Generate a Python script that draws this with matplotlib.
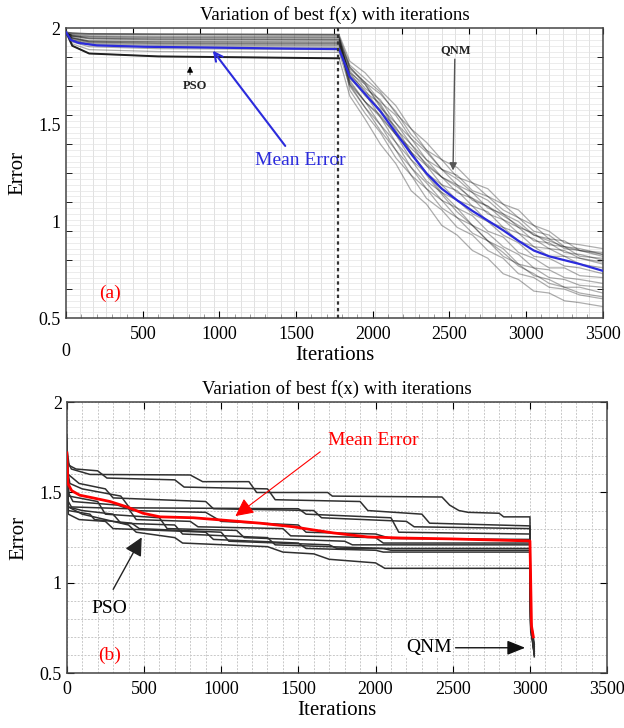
import numpy as np
import matplotlib
matplotlib.use("Agg")
import matplotlib.pyplot as plt
from matplotlib.ticker import MultipleLocator, FixedLocator

plt.rcParams['font.family'] = ['Liberation Serif', 'DejaVu Serif']
plt.rcParams['mathtext.fontset'] = 'stix'

# PANEL (a) DATA : PSO PHASE THEN QNM PHASE
PSO_ITERS_A = [0, 40, 150, 600, 1780]
QNM_ITERS_A = [1850, 1950, 2050, 2150, 2250, 2350, 2450, 2550, 2650,
               2750, 2850, 2950, 3050, 3150, 3250, 3350, 3500]

pso_runs_a = [
    [1.98, 1.975, 1.972, 1.970, 1.968],
    [1.98, 1.970, 1.962, 1.960, 1.958],
    [1.98, 1.965, 1.950, 1.945, 1.942],
    [1.98, 1.960, 1.945, 1.940, 1.938],
    [1.98, 1.955, 1.935, 1.930, 1.928],
    [1.98, 1.950, 1.930, 1.925, 1.922],
    [1.98, 1.945, 1.925, 1.918, 1.915],
    [1.98, 1.950, 1.935, 1.932, 1.930],
    [1.98, 1.960, 1.955, 1.952, 1.950],
    [1.98, 1.940, 1.915, 1.905, 1.902],
    [1.98, 1.930, 1.905, 1.895, 1.890],
    [1.98, 1.975, 1.970, 1.968, 1.965],
    [1.98, 1.940, 1.920, 1.912, 1.910],
    [1.98, 1.920, 1.890, 1.880, 1.876],
    [1.98, 1.960, 1.948, 1.945, 1.944],
    [1.98, 1.910, 1.870, 1.855, 1.845],
    [1.98, 1.965, 1.958, 1.955, 1.953],
    [1.98, 1.950, 1.930, 1.922, 1.920],
]

qnm_runs_a = [
    [1.83, 1.77, 1.68, 1.60, 1.48, 1.41, 1.32, 1.28, 1.20, 1.17, 1.09, 1.06, 0.98, 0.95, 0.89, 0.88, 0.86],
    [1.81, 1.74, 1.67, 1.56, 1.48, 1.37, 1.32, 1.23, 1.20, 1.13, 1.09, 1.02, 0.98, 0.91, 0.90, 0.85, 0.84],
    [1.80, 1.72, 1.66, 1.57, 1.45, 1.37, 1.27, 1.24, 1.16, 1.13, 1.06, 1.02, 0.95, 0.93, 0.87, 0.86, 0.83],
    [1.79, 1.72, 1.62, 1.55, 1.43, 1.36, 1.27, 1.22, 1.15, 1.11, 1.04, 1.00, 0.93, 0.91, 0.86, 0.85, 0.82],
    [1.78, 1.69, 1.63, 1.51, 1.43, 1.32, 1.27, 1.19, 1.15, 1.07, 1.04, 0.97, 0.94, 0.88, 0.87, 0.82, 0.81],
    [1.77, 1.71, 1.59, 1.51, 1.40, 1.32, 1.23, 1.19, 1.11, 1.08, 1.01, 0.97, 0.90, 0.89, 0.84, 0.83, 0.80],
    [1.77, 1.67, 1.61, 1.48, 1.40, 1.29, 1.23, 1.15, 1.12, 1.04, 1.01, 0.94, 0.91, 0.86, 0.85, 0.81, 0.79],
    [1.76, 1.68, 1.57, 1.49, 1.36, 1.29, 1.19, 1.16, 1.08, 1.05, 0.97, 0.94, 0.87, 0.86, 0.82, 0.81, 0.78],
    [1.75, 1.65, 1.58, 1.45, 1.36, 1.25, 1.19, 1.11, 1.08, 1.00, 0.97, 0.90, 0.87, 0.82, 0.82, 0.78, 0.76],
    [1.74, 1.66, 1.54, 1.45, 1.32, 1.25, 1.15, 1.11, 1.04, 1.00, 0.93, 0.89, 0.82, 0.81, 0.77, 0.76, 0.73],
    [1.73, 1.62, 1.54, 1.41, 1.32, 1.21, 1.15, 1.07, 1.03, 0.95, 0.92, 0.84, 0.81, 0.76, 0.76, 0.72, 0.71],
    [1.72, 1.62, 1.50, 1.41, 1.28, 1.20, 1.11, 1.07, 0.98, 0.94, 0.87, 0.83, 0.76, 0.75, 0.71, 0.70, 0.68],
    [1.71, 1.59, 1.50, 1.37, 1.28, 1.17, 1.11, 1.02, 0.98, 0.90, 0.86, 0.78, 0.76, 0.71, 0.70, 0.67, 0.66],
    [1.70, 1.59, 1.47, 1.37, 1.24, 1.17, 1.07, 1.02, 0.94, 0.90, 0.82, 0.78, 0.72, 0.70, 0.66, 0.66, 0.63],
    [1.68, 1.56, 1.46, 1.33, 1.24, 1.12, 1.06, 0.97, 0.93, 0.85, 0.81, 0.73, 0.71, 0.66, 0.65, 0.62, 0.60],
    [1.65, 1.53, 1.40, 1.30, 1.16, 1.09, 0.98, 0.93, 0.85, 0.81, 0.73, 0.70, 0.64, 0.63, 0.59, 0.58, 0.56],
    [1.80, 1.71, 1.60, 1.47, 1.36, 1.24, 1.14, 1.05, 0.98, 0.90, 0.84, 0.77, 0.73, 0.68, 0.66, 0.63, 0.61],
    [1.71, 1.62, 1.55, 1.45, 1.38, 1.30, 1.23, 1.18, 1.12, 1.08, 1.03, 0.98, 0.93, 0.90, 0.87, 0.85, 0.83],
]
DARK_RUN_A = 15

mean_iters_a = [0, 30, 80, 200, 500, 1000, 1500, 1780, 1850, 1950, 2050, 2150, 2250,
                2350, 2450, 2550, 2650, 2750, 2850, 2950, 3050, 3150, 3250, 3350, 3500]
mean_err_a = [1.98, 1.94, 1.925, 1.912, 1.905, 1.90, 1.895, 1.893, 1.75, 1.66, 1.57, 1.46, 1.35,
              1.25, 1.17, 1.11, 1.055, 1.005, 0.955, 0.90, 0.85, 0.82, 0.80, 0.78, 0.745]
SWITCH_ITER_A = 1775

# PANEL (b) DATA : STEP-LIKE PSO RUNS, QNM AT 3000
pso_iters_b = [
    [0, 30, 150, 800, 880, 1180, 1230, 1690, 1720, 2430, 2480, 2540, 2600, 2800, 2830, 3000],
    [0, 15, 60, 200, 260, 700, 760, 1300, 1350, 1900, 1950, 2300, 2350, 3000],
    [0, 10, 80, 250, 300, 900, 950, 1600, 1650, 2200, 2250, 3000],
    [0, 10, 40, 330, 380, 1500, 1550, 2100, 2150, 3000],
    [0, 20, 100, 350, 420, 900, 1000, 1500, 1550, 2000, 2100, 3000],
    [0, 10, 30, 400, 450, 800, 850, 1400, 1450, 2000, 2050, 3000],
    [0, 15, 200, 250, 600, 650, 1100, 1150, 1800, 1850, 3000],
    [0, 10, 150, 180, 420, 470, 1000, 1050, 1700, 1750, 3000],
    [0, 10, 100, 300, 350, 700, 750, 1300, 1350, 2050, 2100, 3000],
    [0, 10, 80, 250, 300, 900, 950, 1500, 1550, 2000, 2050, 3000],
    [0, 10, 100, 400, 450, 700, 750, 1300, 1400, 1600, 1700, 2000, 2060, 3000],
]
pso_vals_b = [
    [1.68, 1.63, 1.60, 1.597, 1.56, 1.56, 1.50, 1.50, 1.48, 1.475, 1.43, 1.40, 1.39, 1.385, 1.365, 1.365],
    [1.75, 1.65, 1.63, 1.62, 1.58, 1.57, 1.53, 1.52, 1.46, 1.45, 1.40, 1.38, 1.33, 1.315],
    [1.70, 1.60, 1.55, 1.52, 1.47, 1.45, 1.41, 1.40, 1.36, 1.34, 1.31, 1.30],
    [1.82, 1.50, 1.45, 1.43, 1.415, 1.41, 1.38, 1.36, 1.28, 1.27],
    [1.65, 1.55, 1.52, 1.48, 1.40, 1.39, 1.34, 1.32, 1.28, 1.27, 1.245, 1.24],
    [1.80, 1.45, 1.42, 1.41, 1.35, 1.34, 1.31, 1.30, 1.26, 1.25, 1.22, 1.22],
    [1.72, 1.48, 1.45, 1.38, 1.36, 1.30, 1.29, 1.25, 1.23, 1.21, 1.21],
    [1.78, 1.40, 1.38, 1.35, 1.33, 1.30, 1.28, 1.23, 1.21, 1.19, 1.19],
    [1.62, 1.42, 1.40, 1.38, 1.33, 1.32, 1.27, 1.25, 1.21, 1.19, 1.18, 1.18],
    [1.70, 1.38, 1.35, 1.34, 1.30, 1.28, 1.24, 1.22, 1.19, 1.18, 1.17, 1.17],
    [1.68, 1.42, 1.38, 1.32, 1.28, 1.25, 1.22, 1.20, 1.17, 1.16, 1.13, 1.11, 1.08, 1.08],
]
QNM_ITERS_B = [3005, 3015, 3028]
qnm_vals_b = [
    [0.80, 0.74, 0.66], [0.78, 0.72, 0.64], [0.77, 0.73, 0.62], [0.79, 0.70, 0.63],
    [0.76, 0.72, 0.60], [0.75, 0.70, 0.61], [0.78, 0.71, 0.65], [0.74, 0.69, 0.60],
    [0.77, 0.70, 0.62], [0.76, 0.71, 0.59], [0.73, 0.68, 0.61],
]

mean_iters_b = [0, 7, 32, 84, 170, 280, 390, 494, 604, 820, 1040, 1253, 1468, 1578,
                1727, 1948, 2162, 2487, 2987, 3000, 3010, 3022]
mean_err_b = [1.72, 1.55, 1.51, 1.485, 1.47, 1.45, 1.42, 1.385, 1.365, 1.36, 1.345, 1.33,
              1.31, 1.295, 1.276, 1.254, 1.248, 1.243, 1.232, 1.232, 0.76, 0.70]

TITLE = "Variation of best f(x) with iterations"
X_TICKS = [0, 500, 1000, 1500, 2000, 2500, 3000, 3500]

fig = plt.figure(figsize=(6.24, 7.28), dpi=100)

# ---------------- PANEL (a) ----------------
ax1 = fig.add_axes([0.106, 0.563, 0.860, 0.398])
ax1.set_xlim(0, 3500)
ax1.set_ylim(0.5, 2.0)

# LIGHT DENSE GRID
for gx in np.arange(87.5, 3500, 87.5):
    ax1.axvline(gx, color='#dcdcdc', lw=0.6, zorder=0)
for gy in np.arange(0.53, 2.0, 0.03):
    ax1.axhline(gy, color='#e4e4e4', lw=0.5, zorder=0)

for pso, qnm in zip(pso_runs_a, qnm_runs_a):
    xs = PSO_ITERS_A + QNM_ITERS_A
    ys = pso + qnm
    ax1.plot(xs, ys, color='black', alpha=0.32, lw=0.9, zorder=2)
ax1.plot(PSO_ITERS_A, pso_runs_a[DARK_RUN_A], color='#202020', lw=1.4, zorder=3)
ax1.plot(PSO_ITERS_A, pso_runs_a[0], color='#606060', lw=1.1, zorder=3)

ax1.plot(mean_iters_a, mean_err_a, color='#2b2bdc', lw=1.6, zorder=4)
ax1.axvline(SWITCH_ITER_A, color='#333333', lw=1.6, ls=(0, (1.5, 1.5)), zorder=5)

ax1.set_xticks(X_TICKS)
ax1.set_xticklabels([''] + [str(t) for t in X_TICKS[1:]])
ax1.text(0, -0.085, '0', transform=ax1.get_xaxis_transform(), ha='center', va='top', fontsize=13)
ax1.xaxis.set_minor_locator(MultipleLocator(100))
ax1.set_yticks([0.5, 1.0, 1.5, 2.0])
ax1.set_yticklabels(['0.5', '1', '1.5', '2'])
ax1.yaxis.set_minor_locator(FixedLocator(np.arange(0.65, 2.0, 0.15)))
ax1.tick_params(axis='x', which='major', direction='in', length=5, labelsize=13, pad=6)
ax1.tick_params(axis='x', which='minor', direction='in', length=3, color='#888888')
ax1.tick_params(axis='y', which='major', direction='in', length=0, labelsize=13, pad=4)
ax1.tick_params(axis='y', which='minor', direction='in', length=4, right=True)
sec_top = ax1.secondary_xaxis('top')
sec_top.set_xticks(np.arange(0, 3501, 437.5))
sec_top.set_xticklabels([])
sec_top.tick_params(direction='in', length=4)
for sp in ax1.spines.values():
    sp.set_color('#444444')
    sp.set_linewidth(1.1)
sec_top.spines['top'].set_visible(False)

ax1.set_title(TITLE, fontsize=13.5, pad=6)
ax1.set_xlabel('Iterations', fontsize=15, labelpad=2)
ax1.set_ylabel('Error', fontsize=15, labelpad=8)

ax1.annotate('', xy=(946, 1.896), xytext=(1440, 1.38),
             arrowprops=dict(arrowstyle='->,head_length=0.6,head_width=0.3', color='#2b2bdc', lw=1.5))
ax1.text(1525, 1.317, 'Mean Error', color='#2b2bdc', fontsize=14, ha='center', va='center')
ax1.annotate('', xy=(808, 1.818), xytext=(808, 1.745),
             arrowprops=dict(arrowstyle='-|>', color='black', lw=0.6, mutation_scale=9))
ax1.text(841, 1.70, 'PSO', fontsize=9, fontweight='bold', ha='center', va='center', color='#222222')
ax1.annotate('', xy=(2523, 1.25), xytext=(2535, 1.855),
             arrowprops=dict(arrowstyle='-|>', color='#555555', lw=1.0, mutation_scale=11))
ax1.text(2542, 1.886, 'QNM', fontsize=9, fontweight='bold', ha='center', va='center', color='#222222')
ax1.text(287, 0.63, '(a)', color='red', fontsize=14, ha='center', va='center')

# ---------------- PANEL (b) ----------------
ax2 = fig.add_axes([0.107, 0.0755, 0.866, 0.372])
ax2.set_xlim(0, 3500)
ax2.set_ylim(0.5, 2.0)
ax2.xaxis.set_minor_locator(MultipleLocator(100))
ax2.yaxis.set_minor_locator(MultipleLocator(0.1))
ax2.grid(True, which='both', color='#c8c8c8', lw=0.7, ls=(0, (2, 1.5)), zorder=0)
ax2.set_axisbelow(True)

for its, vals, qv in zip(pso_iters_b, pso_vals_b, qnm_vals_b):
    ax2.plot(its + QNM_ITERS_B, vals + qv, color='#303030', lw=1.1, zorder=2)
ax2.plot(mean_iters_b, mean_err_b, color='red', lw=2.0, zorder=3)

ax2.set_xticks(X_TICKS)
ax2.set_yticks([0.5, 1.0, 1.5, 2.0])
ax2.set_yticklabels(['0.5', '1', '1.5', '2'])
ax2.tick_params(which='major', direction='in', length=5, top=True, right=True, labelsize=13)
ax2.tick_params(axis='x', which='major', pad=6)
ax2.tick_params(which='minor', length=0)
for sp in ax2.spines.values():
    sp.set_color('#444444')
    sp.set_linewidth(1.1)

ax2.set_title(TITLE, fontsize=13.5, pad=6)
ax2.set_xlabel('Iterations', fontsize=15, labelpad=2)
ax2.set_ylabel('Error', fontsize=15, labelpad=8)

ax2.annotate('', xy=(1078, 1.36), xytext=(1656, 1.735),
             arrowprops=dict(arrowstyle='-|>,head_length=0.5,head_width=0.25', color='red', lw=0.8, mutation_scale=22))
ax2.text(1987, 1.79, 'Mean Error', color='red', fontsize=14, ha='center', va='center')
ax2.annotate('', xy=(494, 1.265), xytext=(292, 0.95),
             arrowprops=dict(arrowstyle='-|>,head_length=0.5,head_width=0.25', color='#222222', lw=1.0, mutation_scale=22))
ax2.text(273, 0.86, 'PSO', fontsize=14, ha='center', va='center')
ax2.annotate('', xy=(2987, 0.64), xytext=(2500, 0.64),
             arrowprops=dict(arrowstyle='-|>,head_length=0.5,head_width=0.2', color='#111111', lw=1.0, mutation_scale=22))
ax2.text(2344, 0.64, 'QNM', fontsize=14, ha='center', va='center',
         bbox=dict(facecolor='white', edgecolor='none', pad=0.5))
ax2.text(279, 0.60, '(b)', color='red', fontsize=14, ha='center', va='center')

fig.savefig('out.png', dpi=100)
